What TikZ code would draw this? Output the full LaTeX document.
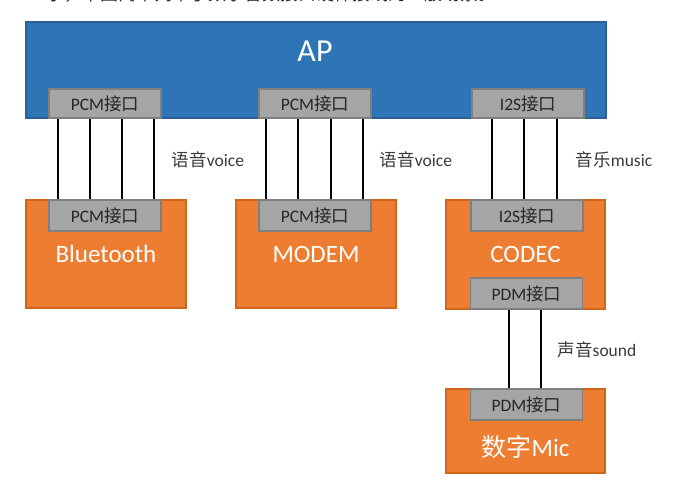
\documentclass[tikz,border=0pt]{standalone}
\usepackage{fontspec}
\setmainfont{Carlito}
\newfontfamily\cjk{Noto Sans CJK SC}
\definecolor{apblue}{HTML}{2E75B6}
\definecolor{apborder}{HTML}{2F5E96}
\definecolor{orfill}{HTML}{ED7D31}
\definecolor{orborder}{HTML}{D0651C}
\definecolor{grfill}{HTML}{A5A5A5}
\definecolor{grborder}{HTML}{7F7F7F}
\definecolor{lbl}{HTML}{3A3A3A}
\tikzset{
  apbox/.style={draw=apborder, fill=apblue, line width=1.5pt, rectangle, inner sep=0pt},
  devbox/.style={draw=orborder, fill=orfill, line width=1.5pt, rectangle, inner sep=0pt, minimum width=159pt},
  ifbox/.style={draw=grborder, fill=grfill, line width=1.5pt, rectangle, inner sep=0pt, minimum width=112pt, text=black!85, font=\fontsize{17.5}{17.5}\selectfont},
  bigtext/.style={text=white, font=\fontsize{25}{25}\selectfont, inner sep=0pt},
  wire/.style={line width=1.6pt, black},
  lab/.style={text=lbl, font=\fontsize{17.5}{17.5}\selectfont, inner sep=0pt}
}
\begin{document}
\begin{tikzpicture}[x=1pt,y=-1pt]
\useasboundingbox (0,0) rectangle (698,503);
\begin{scope}
\clip (0,0) rectangle (698,503);
\node[anchor=base east, text=black!85, font=\fontsize{18}{18}\selectfont\cjk, inner sep=0pt] (caption) at (497,0.5) {示，下图简单列举了数字音频接口硬件接线的一般场景。};
\end{scope}
% AP
\node[apbox, minimum width=580pt, minimum height=96pt] (ap) at (316,70) {};
\node[text=white, font=\fontsize{32}{32}\selectfont, inner sep=0pt] (aptext) at (315,51) {AP};
\node[ifbox, minimum height=29pt] (ap1) at (105,103.5) {PCM{\cjk 接口}};
\node[ifbox, minimum height=29pt] (ap2) at (315,103.5) {PCM{\cjk 接口}};
\node[ifbox, minimum height=29pt] (ap3) at (528,103.5) {I2S{\cjk 接口}};
% devices
\node[devbox, minimum width=160pt, minimum height=108pt] (bt) at (106,254) {};
\node[ifbox, minimum height=31pt] (bti) at (105,215.5) {PCM{\cjk 接口}};
\node[bigtext] (bttext) at (106,254) {Bluetooth};
\node[devbox, minimum width=160pt, minimum height=108pt] (modem) at (316,254) {};
\node[ifbox, minimum height=31pt] (modemi) at (315,215.5) {PCM{\cjk 接口}};
\node[bigtext] (modemtext) at (316,254) {MODEM};
\node[devbox, minimum height=109pt] (codec) at (525.5,254.5) {};
\node[ifbox, minimum height=31pt] (codeci) at (527,215.5) {I2S{\cjk 接口}};
\node[ifbox, minimum height=31pt] (codecp) at (526.5,293.5) {PDM{\cjk 接口}};
\node[bigtext] (codectext) at (525.5,254) {CODEC};
\node[devbox, minimum height=84pt] (mic) at (525.5,431) {};
\node[ifbox, minimum height=31pt] (micp) at (526.5,404.5) {PDM{\cjk 接口}};
\node[bigtext] (mictext) at (525.5,447) {{\cjk 数字}Mic};
% wires
\foreach \d in {10,42,74,106} \draw[wire] ([xshift=\d pt]ap1.south west) -- ([xshift=\d pt]bti.north west);
\foreach \d in {8,40,73,105} \draw[wire] ([xshift=\d pt]ap2.south west) -- ([xshift=\d pt]modemi.north west);
\foreach \d in {21,53,86} \draw[wire] ([xshift=\d pt]ap3.south west) -- ([xshift=\d pt]ap3.south west |- codeci.north);
\foreach \d in {39,71} \draw[wire] ([xshift=\d pt]codecp.south west) -- ([xshift=\d pt]micp.north west);
% labels
\node[lab] (l1) at (208,160) {{\cjk 语音}voice};
\node[lab] (l2) at (416,160) {{\cjk 语音}voice};
\node[lab] (l3) at (614,160) {{\cjk 音乐}music};
\node[lab] (l4) at (597,350) {{\cjk 声音}sound};
\end{tikzpicture}
\end{document}
